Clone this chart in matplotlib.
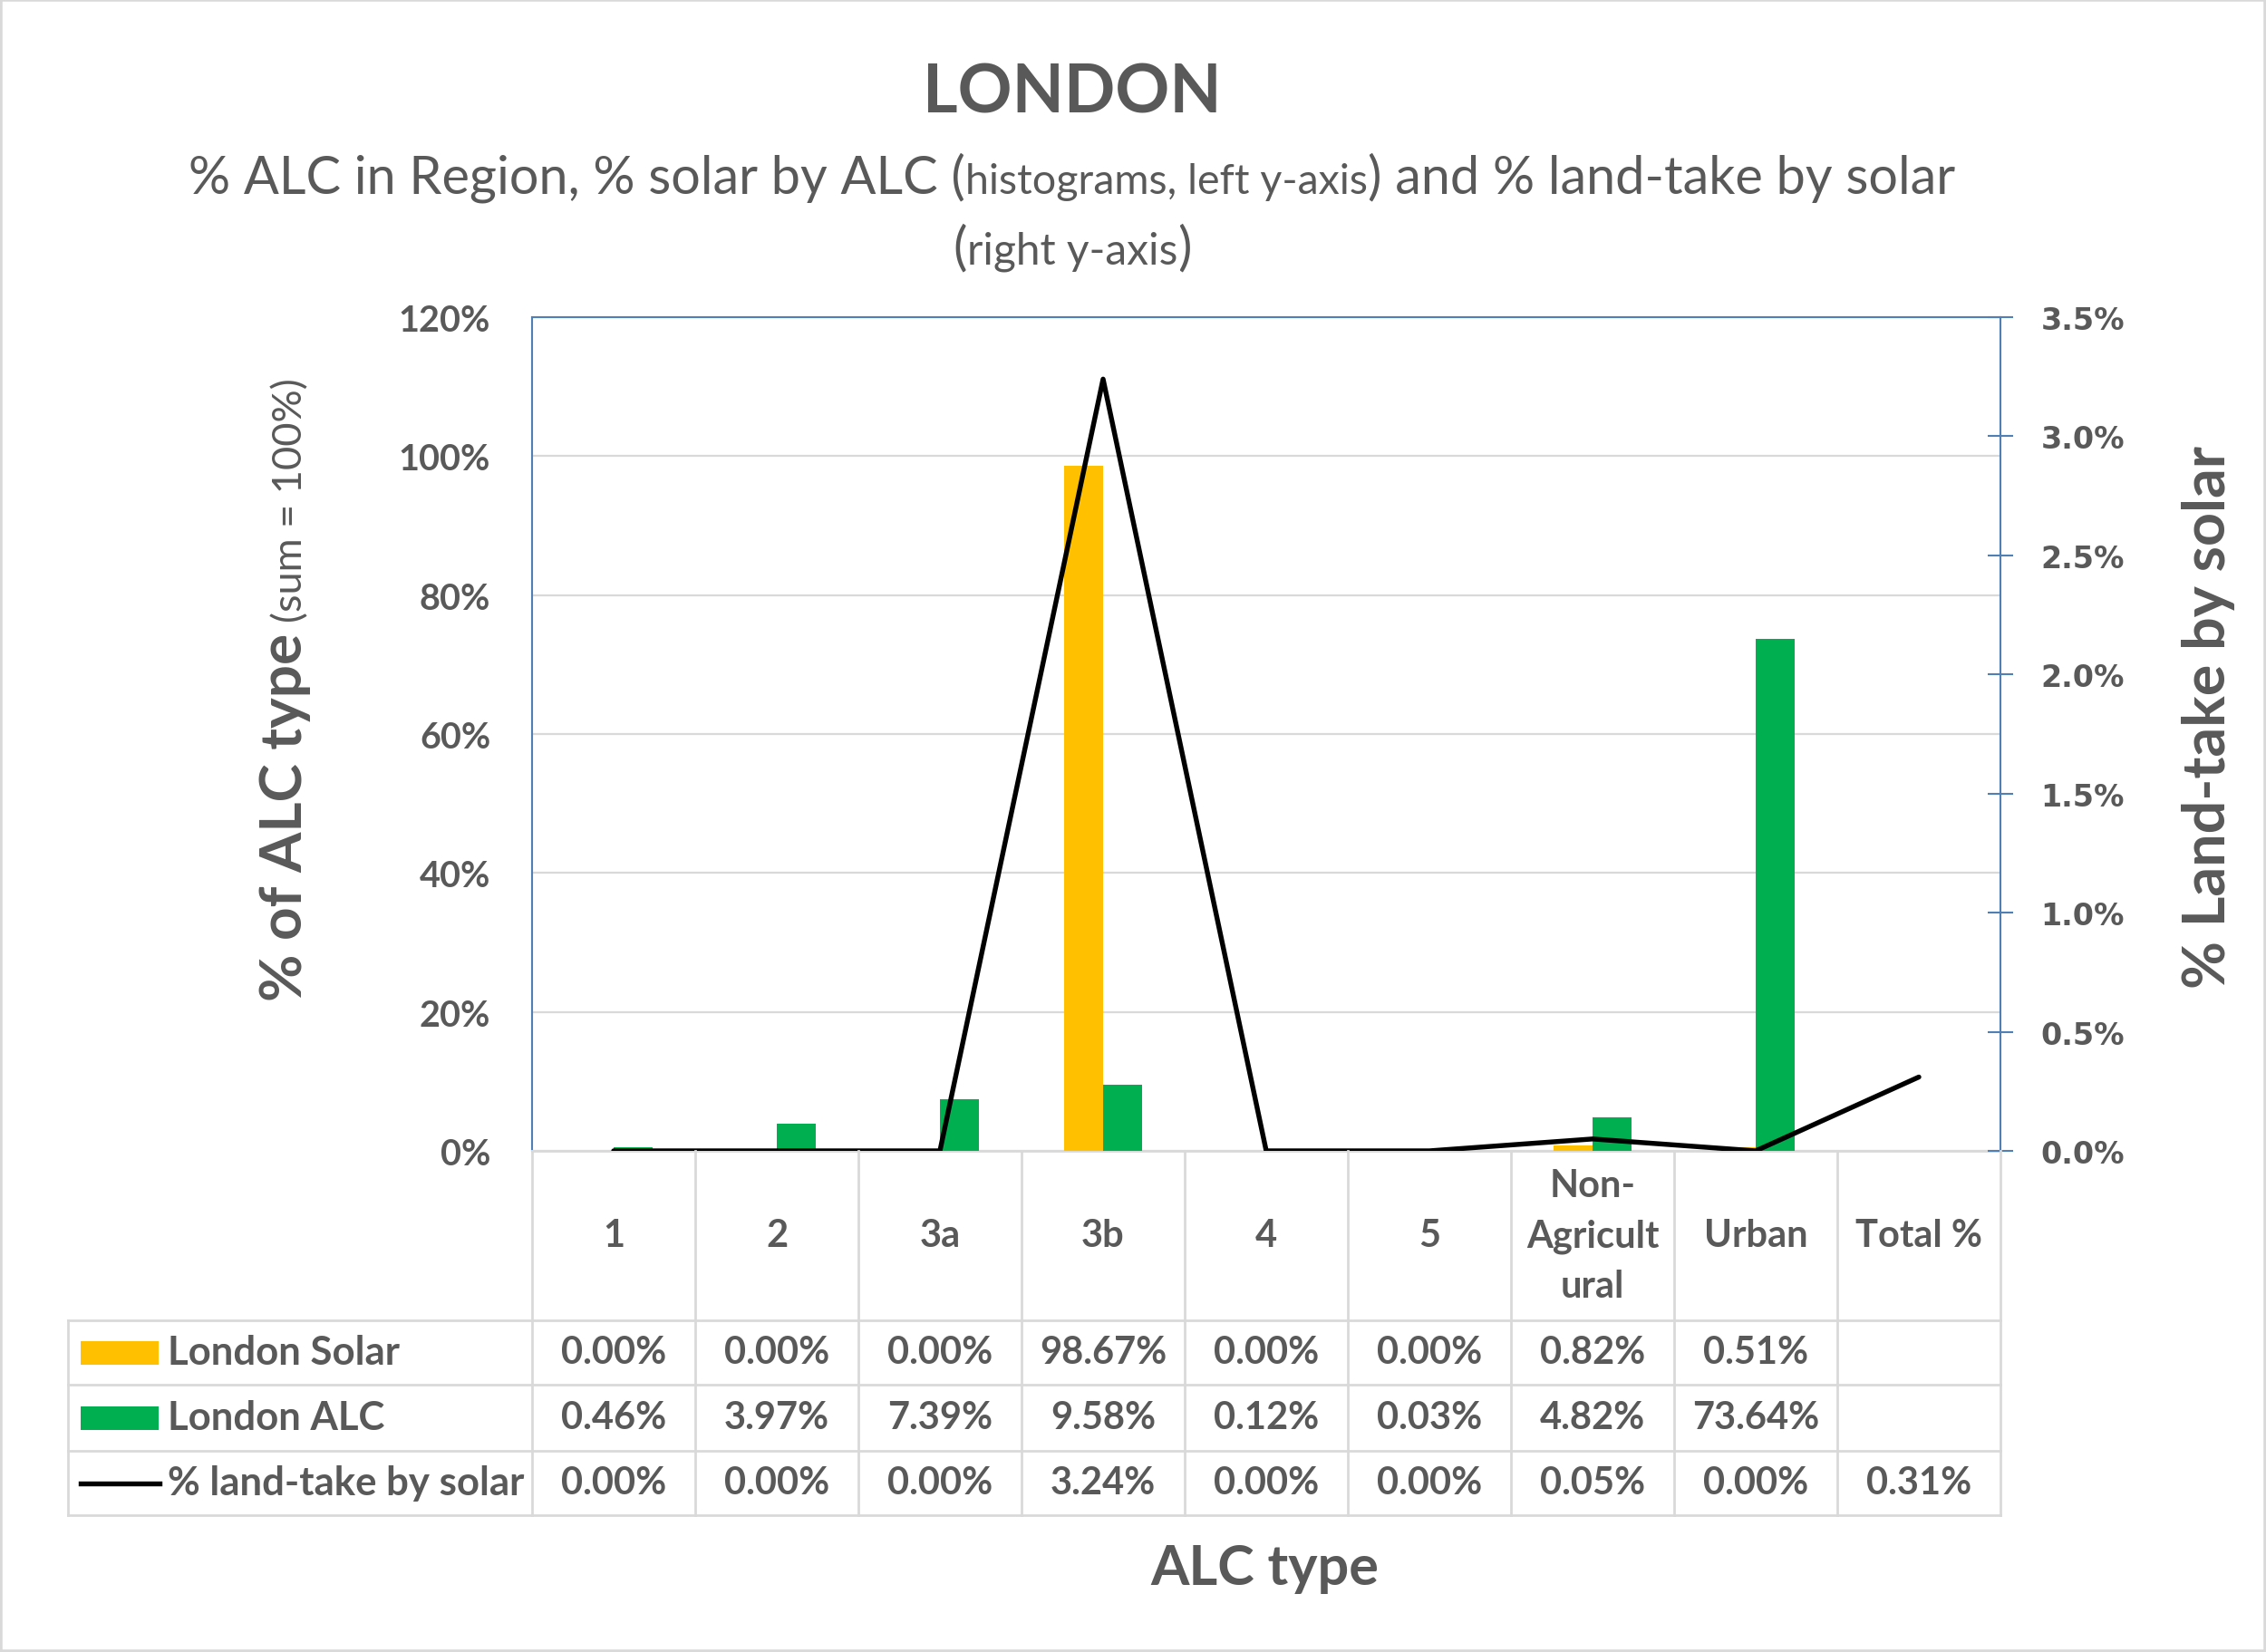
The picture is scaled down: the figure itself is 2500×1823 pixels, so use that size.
import matplotlib
matplotlib.use("Agg")
import matplotlib.pyplot as plt
import numpy as np
from matplotlib.transforms import blended_transform_factory
from matplotlib.patches import Rectangle
from matplotlib.lines import Line2D

# ---------------- data ----------------
categories = ["1", "2", "3a", "3b", "4", "5", "Non-\nAgricult\nural", "Urban", "Total %"]
solar_pct = [0.00, 0.00, 0.00, 98.67, 0.00, 0.00, 0.82, 0.51]      # London Solar (% of solar by ALC)
alc_pct = [0.46, 3.97, 7.39, 9.58, 0.12, 0.03, 4.82, 73.64]        # London ALC (% of region)
landtake_pct = [0.00, 0.00, 0.00, 3.24, 0.00, 0.00, 0.05, 0.00, 0.31]  # % land-take by solar
series_names = ["London Solar", "London ALC", "% land-take by solar"]
left_ticks = [0, 20, 40, 60, 80, 100, 120]
right_ticks = [0.0, 0.5, 1.0, 1.5, 2.0, 2.5, 3.0, 3.5]

# ---------------- style ----------------
plt.rcParams["font.family"] = ["Lato", "DejaVu Sans"]
GRAY = "#595959"
GRID = "#D9D9D9"
BLUE = "#4F7FB5"
YELLOW = "#FFC000"
GREEN = "#00B050"

W, H = 2500, 1824
fig = plt.figure(figsize=(W / 100, H / 100), dpi=100)
fig.patch.set_facecolor("white")


def fx(x):
    return x / W


def fy(y):
    return 1 - y / H


# plot area in pixels
PL, PR, PT, PB = 587, 2207, 351, 1271
ax = fig.add_axes([fx(PL), fy(PB), (PR - PL) / W, (PB - PT) / H])
ax2 = ax.twinx()

n = len(categories)
xb = np.arange(len(solar_pct))
bw = 0.24
ax.bar(xb - bw / 2, solar_pct, width=bw, color=YELLOW, zorder=3)
ax.bar(xb + bw / 2, alc_pct, width=bw, color=GREEN, zorder=3)
ax.set_xlim(-0.5, n - 0.5)
ax.set_ylim(0, 120)
ax.set_yticks(left_ticks)
ax.set_yticklabels([f"{v}%" for v in left_ticks])
ax.set_xticks([])
ax.grid(axis="y", color=GRID, lw=1.6, zorder=0)
ax.set_axisbelow(True)
ax.tick_params(axis="y", length=0, pad=33, labelsize=28.5, labelcolor=GRAY)
for lab in ax.get_yticklabels():
    lab.set_fontweight("bold")
for s in ["left", "top"]:
    ax.spines[s].set_color(BLUE)
    ax.spines[s].set_linewidth(1.5)
ax.spines["right"].set_visible(False)
ax.spines["bottom"].set_color(GRID)
ax.spines["bottom"].set_linewidth(2)

ax2.plot(np.arange(n), landtake_pct, color="black", lw=3.9, zorder=5,
         solid_joinstyle="round", solid_capstyle="round")
ax2.set_ylim(0, 3.5)
ax2.set_yticks(right_ticks)
ax2.set_yticklabels([f"{v:.1f}%" for v in right_ticks],
                    family="DejaVu Sans", fontweight="bold")
ax2.tick_params(axis="y", direction="inout", length=20, width=1.5, color=BLUE,
                pad=22, labelsize=24, labelcolor=GRAY)
for s in ["left", "top", "bottom"]:
    ax2.spines[s].set_visible(False)
ax2.spines["right"].set_color(BLUE)
ax2.spines["right"].set_linewidth(1.5)

# ---------------- data table ----------------
tr = blended_transform_factory(ax.transData, fig.transFigure)
row_edges = [PB, 1458, 1529, 1602, 1673]
x_left_data = -0.5 - (PL - 75) / ((PR - PL) / n)
lkw = dict(color=GRID, lw=2, transform=tr, clip_on=False)
# vertical lines
for k in range(n + 1):
    xv = -0.5 + k
    fig.add_artist(Line2D([xv, xv], [fy(PB), fy(row_edges[-1])], **lkw))
fig.add_artist(Line2D([x_left_data, x_left_data], [fy(row_edges[1]), fy(row_edges[-1])], **lkw))
for yv in row_edges[1:]:
    fig.add_artist(Line2D([x_left_data, n - 0.5], [fy(yv), fy(yv)], **lkw))

TFS = 30
hdr_y = (row_edges[0] + row_edges[1]) / 2
for i, c in enumerate(categories):
    fig.text(i, fy(hdr_y), c, transform=tr, ha="center", va="center",
             fontsize=TFS, fontweight="bold", color=GRAY, linespacing=1.55)

rows = [solar_pct, alc_pct, landtake_pct]
for r, vals in enumerate(rows):
    yc = (row_edges[r + 1] + row_edges[r + 2]) / 2
    for i, v in enumerate(vals):
        fig.text(i, fy(yc), f"{v:.2f}%", transform=tr, ha="center", va="center",
                 fontsize=TFS, fontweight="bold", color=GRAY)
    # legend key + name
    if r < 2:
        fig.add_artist(Rectangle((fx(89), fy(yc + 13)), fx(175) - fx(89), 26 / H,
                                 transform=fig.transFigure, color=[YELLOW, GREEN][r], lw=0))
    else:
        fig.add_artist(Line2D([fx(89), fx(176)], [fy(yc), fy(yc)], color="black", lw=3.9,
                              transform=fig.transFigure))
    fig.text(fx(185), fy(yc), series_names[r], ha="left", va="center",
             fontsize=31.5, fontweight="bold", color=GRAY)

# ---------------- titles ----------------
fig.text(fx(1183), fy(103), "LONDON", ha="center", va="center", fontsize=53.5,
         fontweight="bold", color=GRAY)

renderer = fig.canvas.get_renderer()


def seq_line(pieces, cx, baseline):
    arts = []
    for txt, size in pieces:
        t = fig.text(0, fy(baseline), txt, ha="left", va="baseline", fontsize=size, color=GRAY)
        arts.append(t)
    widths = [a.get_window_extent(renderer).width for a in arts]
    total = sum(widths)
    x = cx - total / 2
    for a, w in zip(arts, widths):
        a.set_x(fx(x))
        x += w


seq_line([("% ALC in Region, % solar by ALC (", 41.5), ("histograms, left y-axis", 33.5),
          (") and % land-take by solar", 41.5)], 1183, 214)
seq_line([("(", 41.5), ("right y-axis", 34.5), (")", 41.5)], 1183, 291)

# left y-axis label (two sizes)
t1 = fig.text(fx(333), fy(1105), "% of ALC type", rotation=90, rotation_mode="anchor",
              ha="left", va="baseline", fontsize=46, fontweight="bold", color=GRAY)
bb = t1.get_window_extent(renderer)
fig.text(fx(333), (bb.y1 + 12) / H, "(sum = 100%)", rotation=90, rotation_mode="anchor",
         ha="left", va="baseline", fontsize=32.5, color=GRAY)

# right y-axis label
fig.text(fx(2436), fy(792), "% Land-take by solar", rotation=90, ha="center", va="center",
         fontsize=46.5, fontweight="bold", color=GRAY)

# x-axis title
fig.text(fx(1395), fy(1731), "ALC type", ha="center", va="center", fontsize=44,
         fontweight="bold", color=GRAY)

# outer frame
fig.add_artist(Rectangle((0, 0), 1, 1, transform=fig.transFigure, fill=False,
                         edgecolor=GRID, lw=4))

fig.savefig("out.png", dpi=100, facecolor="white")
